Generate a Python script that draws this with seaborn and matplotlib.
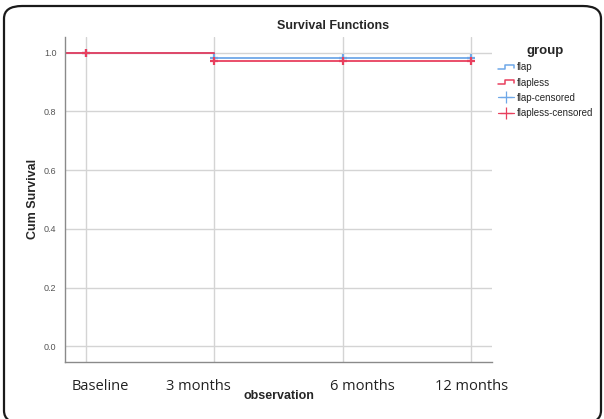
import matplotlib
matplotlib.use("Agg")
import matplotlib.pyplot as plt
import numpy as np
import pandas as pd
import seaborn as sns
from matplotlib.lines import Line2D
from matplotlib.legend_handler import HandlerBase
from matplotlib.patches import FancyBboxPatch
import matplotlib.transforms as mtransforms

# data
observations = ["Baseline", "3 months", "6 months", "12 months"]
groups = ["flap", "flapless"]
flap_surv = [1.0, 0.98, 0.98, 0.98]
flapless_surv = [1.0, 0.972, 0.972, 0.972]
flap_censored = [1.0, 0.98, 0.98, 0.98]
flapless_censored = [1.0, 0.972, 0.972, 0.972]

colors = {"flap": "#6fa8e8", "flapless": "#e8405e"}

sns.set_theme(style="white")
plt.rcParams['font.family'] = ['Liberation Sans', 'DejaVu Sans']

XMIN, XMAX = -0.165, 3.165
pos = list(range(len(observations)))

rows = []
for g, surv in zip(groups, [flap_surv, flapless_surv]):
    # curve starts at time zero (left edge of the axis)
    rows.append({"x": XMIN, "surv": 1.0, "group": g})
    for p, s in zip(pos, surv):
        rows.append({"x": p, "surv": s, "group": g})
curves = pd.DataFrame(rows)

cens = pd.DataFrame({
    "x": pos * 2,
    "surv": flap_censored + flapless_censored,
    "group": ["flap"] * len(pos) + ["flapless"] * len(pos),
})

fig = plt.figure(figsize=(6.04, 4.19), dpi=100)
ax = fig.add_axes([64.7 / 604, 1 - 362 / 419, (492.3 - 64.7) / 604, (362 - 37) / 419])

sns.lineplot(data=curves, x="x", y="surv", hue="group", palette=colors,
             hue_order=["flap", "flapless"], estimator=None, sort=False,
             drawstyle="steps-post", linewidth=1.3, ax=ax, legend=False)
for g in groups:
    sub = cens[cens.group == g]
    ax.plot(sub.x, sub.surv, linestyle="none", marker="+", markersize=6,
            markeredgewidth=1.6, color=colors[g], zorder=4)

ax.set_xlim(XMIN, XMAX)
ax.set_ylim(-0.053, 1.053)
ax.set_xticks(pos)
ax.set_xticklabels(observations, fontsize=10.5, color="#222222",
                   fontfamily=["Open Sans", "DejaVu Sans"])
ax.set_yticks([0.0, 0.2, 0.4, 0.6, 0.8, 1.0])
ax.set_yticklabels(["0.0", "0.2", "0.4", "0.6", "0.8", "1.0"], fontsize=6.5, color="#555555")
ax.grid(True, color="#d4d4d4", linewidth=1.0)
ax.set_axisbelow(True)
ax.tick_params(axis="y", length=3, width=0.8, color="#aaaaaa", pad=3)
ax.tick_params(axis="x", length=0, pad=12)
for side in ["top", "right"]:
    ax.spines[side].set_visible(False)
for side in ["left", "bottom"]:
    ax.spines[side].set_color("#8a8a8a")
    ax.spines[side].set_linewidth(1.0)

# labels in the picture sit a bit off their grid lines
shifts = [14, -16, 20, 0]
for lab, dx in zip(ax.get_xticklabels(), shifts):
    lab.set_transform(lab.get_transform() + mtransforms.ScaledTranslation(dx / 100, 0, fig.dpi_scale_trans))

ax.set_xlabel("")
ax.set_ylabel("")
fig.text(278.5 / 604, 1 - 396 / 419, "observation", ha="center", va="center",
         fontsize=9, fontweight="bold")
fig.text(32.7 / 604, 1 - 199 / 419, "Cum Survival", ha="center", va="center",
         rotation=90, fontsize=9, fontweight="bold")
fig.text(333 / 604, 1 - 26 / 419, "Survival Functions", ha="center", va="center",
         fontsize=9, fontweight="bold")


class StepHandler(HandlerBase):
    def create_artists(self, legend, orig, xd, yd, w, h, fontsize, trans):
        xs = [xd, xd + w * 0.45, xd + w * 0.45, xd + w * 0.95, xd + w * 0.95]
        ys = [yd + h * 0.2, yd + h * 0.2, yd + h * 0.8, yd + h * 0.8, yd + h * 0.35]
        ln = Line2D(xs, ys, color=orig.get_color(), linewidth=1.1, transform=trans)
        return [ln]


h_flap = Line2D([], [], color=colors["flap"])
h_flapless = Line2D([], [], color=colors["flapless"])
h_fc = Line2D([], [], color=colors["flap"], marker="+", markersize=9, markeredgewidth=0.9, linewidth=0.9)
h_flc = Line2D([], [], color=colors["flapless"], marker="+", markersize=9, markeredgewidth=0.9, linewidth=0.9)
leg = fig.legend([h_flap, h_flapless, h_fc, h_flc],
                 ["flap", "flapless", "flap-censored", "flapless-censored"],
                 handler_map={h_flap: StepHandler(), h_flapless: StepHandler()},
                 loc="upper left", bbox_to_anchor=(491 / 604, 1 - 38 / 419),
                 frameon=False, fontsize=7, title="group", handlelength=1.7,
                 handletextpad=0.25, labelspacing=0.55, borderpad=0.2,
                 alignment="center")
leg.get_title().set_fontweight("bold")
leg.get_title().set_fontsize(9.5)

border = FancyBboxPatch((4 / 604, -0.01), (597 / 604), 1 - 6 / 419 + 0.01,
                        boxstyle="round,pad=0,rounding_size=0.03",
                        transform=fig.transFigure, fill=False,
                        edgecolor="#1a1a1a", linewidth=1.6, clip_on=False)
fig.patches.append(border)

fig.savefig("out.png", dpi=100)
